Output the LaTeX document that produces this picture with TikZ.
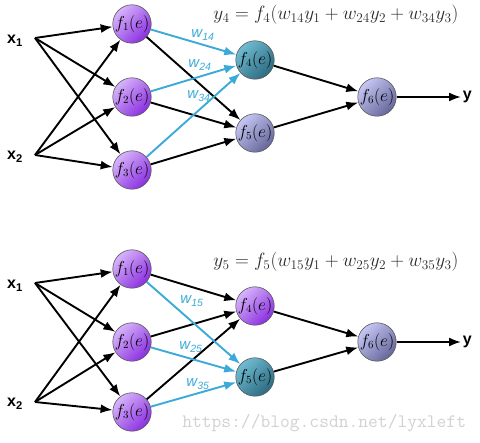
\documentclass[tikz,border=0pt]{standalone}
\usepackage{graphicx}
\usepackage{fontspec}
\setsansfont{Liberation Sans}
\usetikzlibrary{arrows.meta}
\definecolor{purA}{HTML}{D6B4FA}
\definecolor{purB}{HTML}{8B2FE0}
\definecolor{tealA}{HTML}{70BCD2}
\definecolor{tealB}{HTML}{2C6A80}
\definecolor{lavA}{HTML}{C6C6F4}
\definecolor{lavB}{HTML}{66669A}
\definecolor{wblue}{HTML}{3BAAD8}
\definecolor{eqgray}{HTML}{2A2A2A}
\newcommand{\eqbox}[1]{\scalebox{1.11}{#1}}
\tikzset{
  neuron/.style={circle, draw=black!65, line width=0.6pt, minimum size=38pt,
    inner sep=0pt, font=\fontsize{16}{18}\selectfont},
  npur/.style={neuron, top color=purA, bottom color=purB, shading angle=45},
  nteal/.style={neuron, top color=tealA, bottom color=tealB, shading angle=45},
  nlav/.style={neuron, top color=lavA, bottom color=lavB, shading angle=45},
  inlab/.style={font=\sffamily\bfseries\fontsize{16}{18}\selectfont, inner sep=1pt},
  wlab/.style={text=wblue, font=\sffamily\itshape\fontsize{15}{17}\selectfont, inner sep=1pt},
  wline/.style={wblue, ->},
  eqlab/.style={text=eqgray, font=\fontsize{18}{20}\selectfont},
}
\begin{document}
\begin{tikzpicture}[x=1pt, y=-1pt, >={Latex[length=12pt,width=9pt]}, line width=1.9pt]
\useasboundingbox (0,0) rectangle (480,443);
% upper network
\node[inlab] (ax1) at (15,41) {x\textsubscript{1}};
\node[inlab] (ax2) at (15,157) {x\textsubscript{2}};
\coordinate (ax1s) at (35,38);
\coordinate (ax2s) at (35,155);
\node[npur] (a1) at (132,24)  {$f_1(e)$};
\node[npur] (a2) at (132,97)  {$f_2(e)$};
\node[npur] (a3) at (132,170) {$f_3(e)$};
\node[nteal] (a4) at (255,60)  {$f_4(e)$};
\node[nlav] (a5) at (255,133) {$f_5(e)$};
\node[nlav] (a6) at (377,97)  {$f_6(e)$};
\node[inlab, anchor=west] (ay) at (461,97) {y};
\node[eqlab] (aeq) at (336,15) {\eqbox{$y_4 = f_4(w_{14}y_1 + w_{24}y_2 + w_{34}y_3)$}};
\draw[->] (ax1s) -- (a1);
\draw[->] (ax1s) -- (a2);
\draw[->] (ax1s) -- (a3);
\draw[->] (ax2s) -- (a1);
\draw[->] (ax2s) -- (a2);
\draw[->] (ax2s) -- (a3);
\draw[->] (a1) -- (a5);
\draw[->] (a2) -- (a5);
\draw[->] (a3) -- (a5);
\draw[wline] (a1) -- (a4);
\draw[wline] (a2) -- (a4);
\draw[wline] (a3) -- (a4);
\draw[->] (a4) -- (a6);
\draw[->] (a5) -- (a6);
\draw[->] (a6) -- (ay);
\node[wlab] (aw14) at (203,35) {w\textsubscript{14}};
\node[wlab] (aw24) at (200,65) {w\textsubscript{24}};
\node[wlab] (aw34) at (199,96) {w\textsubscript{34}};
% lower network
\node[inlab] (bx1) at (15,286) {x\textsubscript{1}};
\node[inlab] (bx2) at (15,404) {x\textsubscript{2}};
\coordinate (bx1s) at (35,283);
\coordinate (bx2s) at (35,402);
\node[npur] (b1) at (132,269) {$f_1(e)$};
\node[npur] (b2) at (132,342) {$f_2(e)$};
\node[npur] (b3) at (132,412) {$f_3(e)$};
\node[npur] (b4) at (255,306) {$f_4(e)$};
\node[nteal] (b5) at (255,377) {$f_5(e)$};
\node[nlav] (b6) at (377,342) {$f_6(e)$};
\node[inlab, anchor=west] (by) at (461,342) {y};
\node[eqlab] (beq) at (336,262) {\eqbox{$y_5 = f_5(w_{15}y_1 + w_{25}y_2 + w_{35}y_3)$}};
\draw[->] (bx1s) -- (b1);
\draw[->] (bx1s) -- (b2);
\draw[->] (bx1s) -- (b3);
\draw[->] (bx2s) -- (b1);
\draw[->] (bx2s) -- (b2);
\draw[->] (bx2s) -- (b3);
\draw[->] (b1) -- (b4);
\draw[->] (b2) -- (b4);
\draw[->] (b3) -- (b4);
\draw[wline] (b1) -- (b5);
\draw[wline] (b2) -- (b5);
\draw[wline] (b3) -- (b5);
\draw[->] (b4) -- (b6);
\draw[->] (b5) -- (b6);
\draw[->] (b6) -- (by);
\node[wlab] (bw15) at (192,301) {w\textsubscript{15}};
\node[wlab] (bw25) at (191,347) {w\textsubscript{25}};
\node[wlab] (bw35) at (198,384) {w\textsubscript{35}};
% watermark
\node[text=black!18, font=\ttfamily\fontsize{19}{21}\selectfont, anchor=west] (wm) at (178,423) {https://blog.csdn.net/lyxleft};
\end{tikzpicture}
\end{document}
